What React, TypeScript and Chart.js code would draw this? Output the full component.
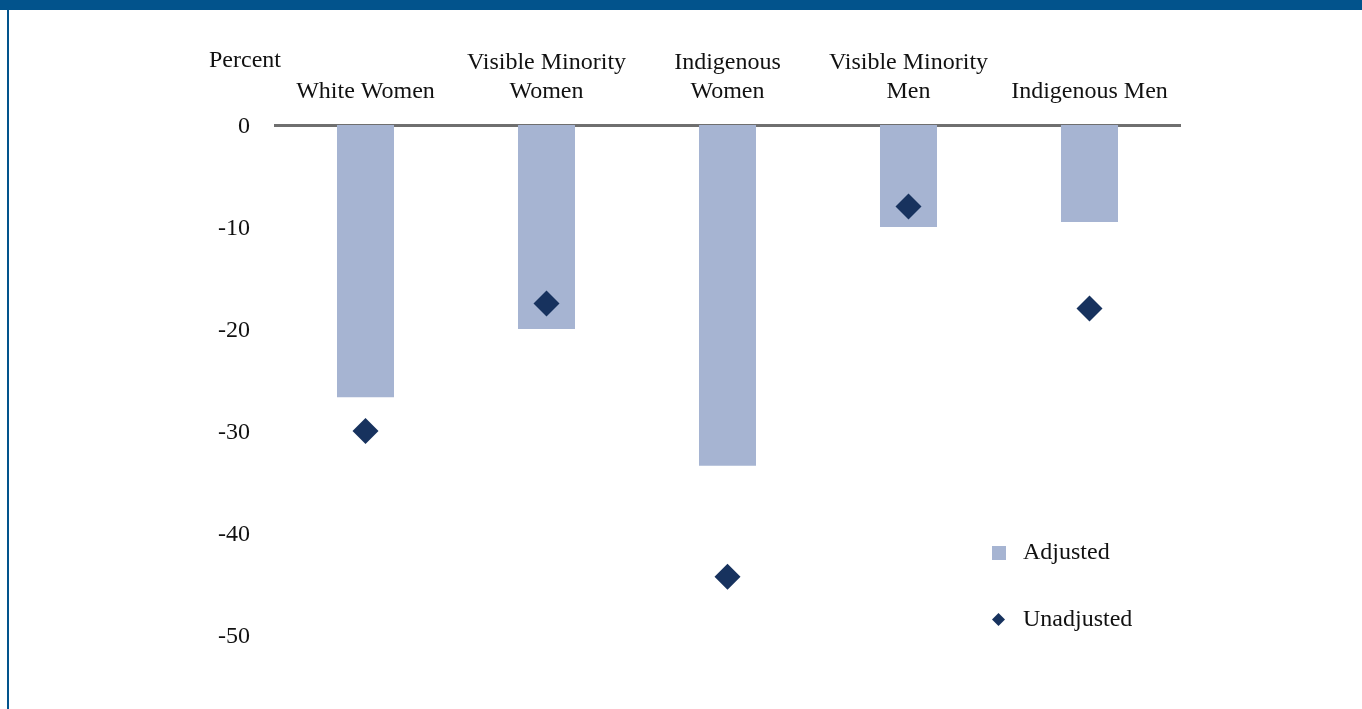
import React, { useEffect, useRef } from "react";
import { Chart, registerables } from "chart.js";

Chart.register(...registerables);

const categories: (string | string[])[] = [
  "White Women",
  ["Visible Minority", "Women"],
  ["Indigenous", "Women"],
  ["Visible Minority", "Men"],
  "Indigenous Men",
];
const adjusted = [-26.7, -20.0, -33.4, -10.0, -9.5];
const unadjusted = [-30.0, -17.5, -44.3, -8.0, -18.0];
const yTicks = [0, -10, -20, -30, -40, -50];
const yMin = -55;
const legendLabels = ["Adjusted", "Unadjusted"];
const yAxisTitle = "Percent";

const BAR_COLOR = "#A6B4D2";
const DIAMOND_COLOR = "#17325E";
const FRAME_COLOR = "#02538C";
const FONT = "'Liberation Serif', 'Times New Roman', serif";

const decorPlugin = {
  id: "decor",
  afterDraw(chart: any) {
    const ctx = chart.ctx as CanvasRenderingContext2D;
    ctx.save();
    ctx.fillStyle = FRAME_COLOR;
    ctx.fillRect(0, 0, chart.width, 10);
    ctx.fillRect(7, 0, 2, chart.height);
    ctx.fillStyle = "#111111";
    ctx.font = `24px ${FONT}`;
    ctx.textAlign = "left";
    ctx.textBaseline = "middle";
    ctx.fillText(yAxisTitle, 209, 61);
    ctx.fillStyle = BAR_COLOR;
    ctx.fillRect(992, 546, 14, 14);
    ctx.fillStyle = DIAMOND_COLOR;
    ctx.beginPath();
    const cx = 998.5, cy = 619.5, r = 6.5;
    ctx.moveTo(cx, cy - r);
    ctx.lineTo(cx + r, cy);
    ctx.lineTo(cx, cy + r);
    ctx.lineTo(cx - r, cy);
    ctx.closePath();
    ctx.fill();
    ctx.fillStyle = "#111111";
    ctx.fillText(legendLabels[0], 1023, 553);
    ctx.fillText(legendLabels[1], 1023, 620);
    ctx.restore();
  },
};

export default function App() {
  const canvasRef = useRef<HTMLCanvasElement | null>(null);

  useEffect(() => {
    document.body.style.margin = "0";
    const canvas = canvasRef.current;
    if (!canvas) return;
    const chart = new Chart(canvas, {
      type: "bar",
      data: {
        labels: categories as any,
        datasets: [
          {
            type: "line" as any,
            label: legendLabels[1],
            data: unadjusted,
            showLine: false,
            pointStyle: "rectRot",
            pointRadius: 13,
            pointHoverRadius: 13,
            backgroundColor: DIAMOND_COLOR,
            borderColor: DIAMOND_COLOR,
            borderWidth: 0,
            order: 0,
          } as any,
          {
            type: "bar",
            label: legendLabels[0],
            data: adjusted,
            backgroundColor: BAR_COLOR,
            borderWidth: 0,
            categoryPercentage: 1,
            barPercentage: 0.315,
            order: 1,
          },
        ],
      },
      options: {
        animation: false,
        responsive: false,
        maintainAspectRatio: false,
        layout: { autoPadding: false, padding: { left: 0, right: 182, top: 0, bottom: 23 } },
        plugins: {
          legend: { display: false },
          tooltip: { enabled: false },
        },
        scales: {
          x: {
            position: "top",
            grid: { display: false, drawTicks: false },
            border: { display: true, color: "#6F6F6F", width: 3 },
            ticks: {
              color: "#111111",
              font: { family: FONT, size: 24 },
              padding: 19,
              maxRotation: 0,
              autoSkip: false,
            },
            afterFit(scale: any) {
              scale.height = 125;
              scale.paddingLeft = 0;
              scale.paddingRight = 0;
            },
          },
          y: {
            min: yMin,
            max: 0,
            grid: { display: false, drawTicks: false },
            border: { display: false },
            afterBuildTicks(scale: any) {
              scale.ticks = yTicks.map((v) => ({ value: v }));
            },
            ticks: {
              color: "#111111",
              font: { family: FONT, size: 24 },
              padding: 25,
              labelOffset: 2,
              callback: (v: any) => String(v),
            },
            afterFit(scale: any) {
              scale.width = 275;
              scale.paddingTop = 0;
              scale.paddingBottom = 0;
            },
          },
        },
      },
      plugins: [decorPlugin],
    });
    return () => chart.destroy();
  }, []);

  return (
    <div style={{ width: 1362, height: 709, background: "#ffffff" }}>
      <canvas ref={canvasRef} width={1362} height={709} style={{ display: "block" }} />
    </div>
  );
}
